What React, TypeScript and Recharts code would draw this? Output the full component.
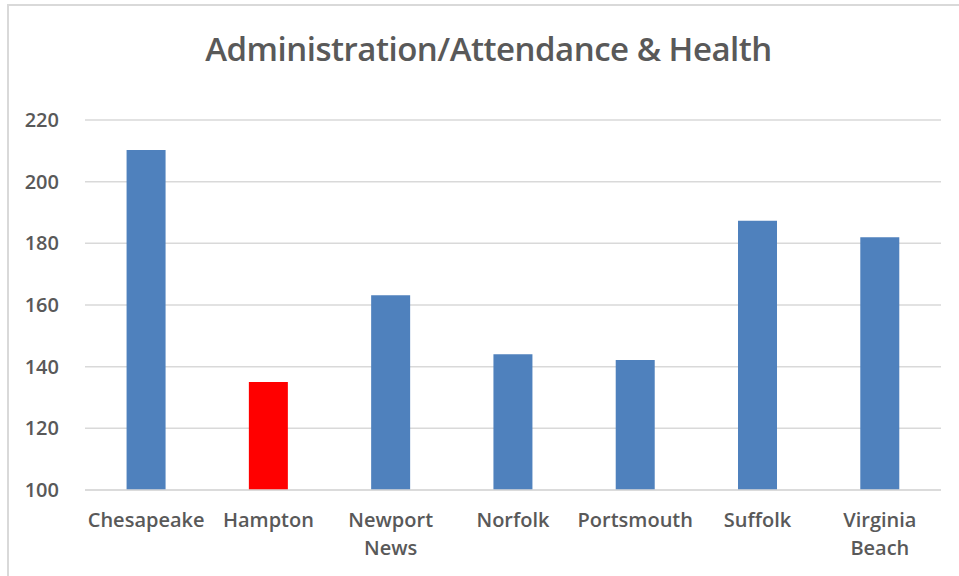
import { Bar, BarChart, CartesianGrid, Cell, XAxis, YAxis } from "recharts";

const cities = ["Chesapeake", "Hampton", "Newport News", "Norfolk", "Portsmouth", "Suffolk", "Virginia Beach"];
const spending = [210.3, 135, 163.2, 144, 142.2, 187.3, 182];
const barColors = ["#4f81bd", "#ff0000", "#4f81bd", "#4f81bd", "#4f81bd", "#4f81bd", "#4f81bd"];
const yTicks = [100, 120, 140, 160, 180, 200, 220];

const font = "'Open Sans', 'Noto Sans', sans-serif";

const CityTick = ({ x, y, payload }: any) => {
    const words: string[] = String(payload.value).split(" ");
    return (
        <text x={x} y={y} textAnchor="middle" fill="#595959" fontFamily={font} fontSize={20} fontWeight={600}>
            {words.map((w, i) => (
                <tspan key={i} x={x} dy={i === 0 ? 29 : 28}>{w}</tspan>
            ))}
        </text>
    );
};

function App() {
    const data = cities.map((city, i) => ({ city, value: spending[i], color: barColors[i] }));

    return (
        <div style={{ position: "absolute", left: 0, top: 0, width: 959, height: 576, background: "#fff", overflow: "hidden" }}>
            <div style={{ position: "absolute", left: 7, top: 4, width: 960, height: 580, border: "2px solid #d9d9d9", boxSizing: "border-box" }} />
            <div style={{
                position: "absolute", left: 0, top: 26, width: 977, textAlign: "center",
                fontFamily: font, fontSize: 33, fontWeight: 600, color: "#595959", letterSpacing: -0.5
            }}>
                Administration/Attendance &amp; Health
            </div>
            <BarChart
                width={959}
                height={576}
                data={data}
                margin={{ top: 120, right: 18, bottom: 0, left: 0 }}
                barCategoryGap="34%"
                style={{ position: "absolute", left: 0, top: 0 }}
            >
                <CartesianGrid horizontal vertical={false} stroke="#d9d9d9" strokeWidth={1.5} />
                <XAxis
                    dataKey="city"
                    interval={0}
                    tickLine={false}
                    axisLine={{ stroke: "#d9d9d9", strokeWidth: 1.5 }}
                    tick={<CityTick />}
                    height={86}
                />
                <YAxis
                    domain={[100, 220]}
                    ticks={yTicks}
                    allowDataOverflow
                    width={85}
                    axisLine={false}
                    tickLine={false}
                    tickMargin={20}
                    tick={{ fill: "#595959", fontFamily: font, fontSize: 20, fontWeight: 600 }}
                />
                <Bar dataKey="value" isAnimationActive={false}>
                    {data.map((d) => (
                        <Cell key={d.city} fill={d.color} />
                    ))}
                </Bar>
            </BarChart>
        </div>
    );
}

export default App;
